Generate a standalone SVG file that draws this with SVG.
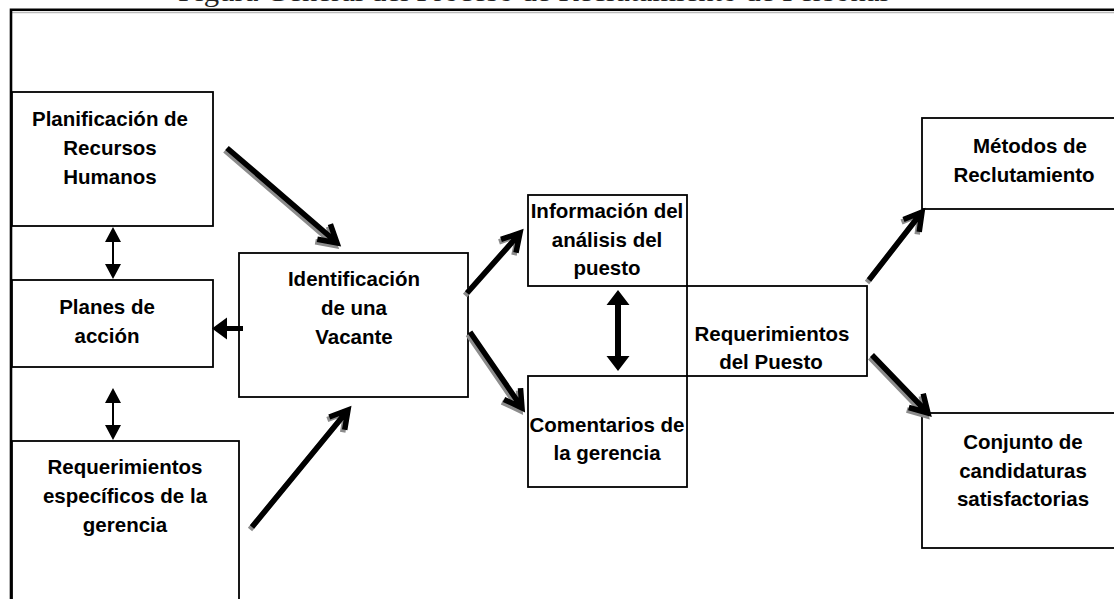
<svg xmlns="http://www.w3.org/2000/svg" width="1114" height="599" viewBox="0 0 1114 599">
<defs>
<style>
.box{fill:#fff;stroke:#000;stroke-width:1.8}
.lbl{font-family:"Liberation Sans",Arial,sans-serif;font-weight:bold;font-size:20.5px;fill:#000;text-anchor:middle}
.title{font-family:"Liberation Serif","Times New Roman",serif;font-size:28px;fill:#222}
.arr{fill:none;stroke:#000;stroke-width:5.5;stroke-linecap:butt;stroke-linejoin:miter}
.sh{fill:none;stroke:#8c8c8c;stroke-width:5.5;stroke-linejoin:miter}
.fill{fill:#000;stroke:none}
</style>
</defs>
<rect width="1114" height="599" fill="#fff"/>
<text class="title" x="178" y="0.5" textLength="710" lengthAdjust="spacingAndGlyphs">Figura General del Proceso de Reclutamiento de Personal</text>
<g id="frame">
<line x1="12" y1="12.5" x2="1114" y2="12.5" stroke="#bbb" stroke-width="1.5"/>
<path d="M11 600 V9.75 H1115" fill="none" stroke="#000" stroke-width="2.6"/>
</g>
<g id="n-planificacion">
<rect class="box" x="12" y="92" width="201" height="134"/>
<text class="lbl" x="110" y="126">Planificación de</text>
<text class="lbl" x="110" y="155">Recursos</text>
<text class="lbl" x="110" y="184">Humanos</text>
</g>
<g id="n-planes">
<rect class="box" x="12" y="280" width="201" height="87"/>
<text class="lbl" x="107" y="314">Planes de</text>
<text class="lbl" x="107" y="343">acción</text>
</g>
<g id="n-reqesp">
<rect class="box" x="12" y="441" width="227" height="170"/>
<text class="lbl" x="125" y="474">Requerimientos</text>
<text class="lbl" x="125" y="503">específicos de la</text>
<text class="lbl" x="125" y="532">gerencia</text>
</g>
<g id="n-identificacion">
<rect class="box" x="239" y="253" width="229" height="144"/>
<text class="lbl" x="354" y="286">Identificación</text>
<text class="lbl" x="354" y="315">de una</text>
<text class="lbl" x="354" y="344">Vacante</text>
</g>
<g id="n-informacion">
<rect class="box" x="528" y="195" width="159" height="91"/>
<text class="lbl" x="607" y="218">Información del</text>
<text class="lbl" x="607" y="247">análisis del</text>
<text class="lbl" x="607" y="275">puesto</text>
</g>
<g id="n-comentarios">
<rect class="box" x="528" y="376" width="159" height="111"/>
<text class="lbl" x="607" y="432">Comentarios de</text>
<text class="lbl" x="607" y="460">la gerencia</text>
</g>
<g id="n-reqpuesto">
<rect class="box" x="687" y="286" width="180" height="90"/>
<text class="lbl" x="772" y="341">Requerimientos</text>
<text class="lbl" x="771" y="369">del Puesto</text>
</g>
<g id="n-metodos">
<rect class="box" x="922" y="118" width="200" height="91"/>
<text class="lbl" x="1030" y="153">Métodos de</text>
<text class="lbl" x="1024" y="182">Reclutamiento</text>
</g>
<g id="n-conjunto">
<rect class="box" x="922" y="413" width="200" height="135"/>
<text class="lbl" x="1023" y="449">Conjunto de</text>
<text class="lbl" x="1023" y="478">candidaturas</text>
<text class="lbl" x="1023" y="506">satisfactorias</text>
</g>
<g id="connectors">
<g transform="translate(-2,2.5)">
<path class="sh" d="M227 148 L335 241 M317.3 239.2 L337 243 L330.4 224.1"/>
<path class="sh" d="M252 527 L346 412.5 M329.3 417 L348 410 L344.7 429.7"/>
<path class="sh" d="M467 293 L518 235.5 M501 239.4 L520 233 L516 252.6"/>
<path class="sh" d="M470 332 L520.5 405.5 M520.5 388.1 L522 408 L504 399.4"/>
<path class="sh" d="M869 280 L920 214.5 M903.5 219.5 L922 212 L919.2 231.8"/>
<path class="sh" d="M872 355 L926 411 M923.2 393.6 L928 413 L908.8 407.5"/>
</g>
<path class="arr" d="M227 148 L335 241 M317.3 239.2 L337 243 L330.4 224.1"/>
<path class="arr" d="M252 527 L346 412.5 M329.3 417 L348 410 L344.7 429.7"/>
<path class="arr" d="M467 293 L518 235.5 M501 239.4 L520 233 L516 252.6"/>
<path class="arr" d="M470 332 L520.5 405.5 M520.5 388.1 L522 408 L504 399.4"/>
<path class="arr" d="M869 280 L920 214.5 M903.5 219.5 L922 212 L919.2 231.8"/>
<path class="arr" d="M872 355 L926 411 M923.2 393.6 L928 413 L908.8 407.5"/>
<g id="c-plan-planes">
<line x1="113" y1="240" x2="113" y2="266" stroke="#000" stroke-width="2"/>
<path class="fill" d="M113 227 L121 242 L105 242 Z M113 279 L121 264 L105 264 Z"/>
</g>
<g id="c-planes-req">
<line x1="113" y1="401" x2="113" y2="427" stroke="#000" stroke-width="2"/>
<path class="fill" d="M113 388 L121 403 L105 403 Z M113 440 L121 425 L105 425 Z"/>
</g>
<g id="c-ident-planes">
<line x1="225" y1="328.5" x2="243" y2="328.5" stroke="#000" stroke-width="5"/>
<path class="fill" d="M212 328.5 L227 317.5 L227 339.5 Z"/>
</g>
<g id="c-info-com">
<line x1="618" y1="303" x2="618" y2="358" stroke="#000" stroke-width="6"/>
<path class="fill" d="M618 290 L629.5 305 L606.5 305 Z M618 371 L629.5 356 L606.5 356 Z"/>
</g>
</g>
</svg>
